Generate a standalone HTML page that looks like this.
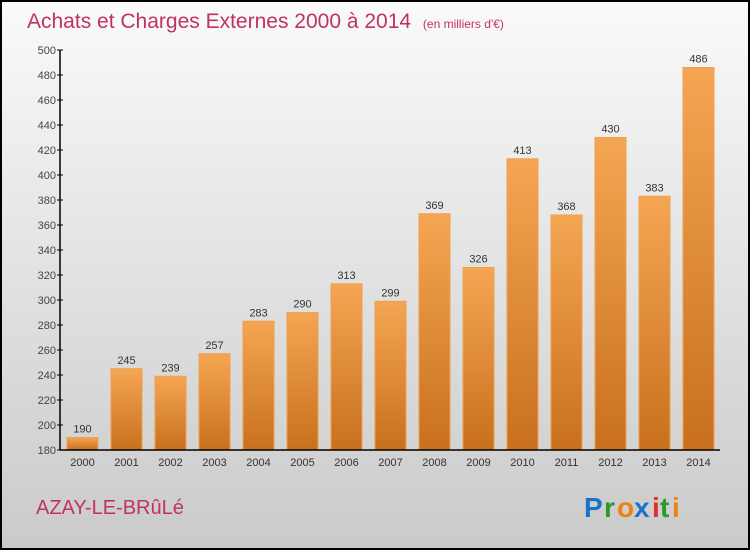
<!DOCTYPE html>
<html><head><meta charset="utf-8"><style>
html,body{margin:0;padding:0;}
body{width:750px;height:550px;overflow:hidden;font-family:"Liberation Sans",sans-serif;}
</style></head><body>
<svg id="chart" width="750" height="550" xmlns="http://www.w3.org/2000/svg">
<defs>
<linearGradient id="bg" x1="0" y1="0" x2="0" y2="1"><stop offset="0" stop-color="#fafafa"/><stop offset="1" stop-color="#cacaca"/></linearGradient>
<linearGradient id="bar" x1="0" y1="0" x2="0" y2="1"><stop offset="0" stop-color="#f5a652"/><stop offset="1" stop-color="#c8701e"/></linearGradient>
</defs>
<rect x="1" y="1" width="748" height="548" fill="url(#bg)" stroke="#000" stroke-width="2"/>
<text x="27" y="28" font-size="21" fill="#c0335f">Achats et Charges Externes 2000 à 2014 <tspan font-size="12" dx="6">(en milliers d'€)</tspan></text>
<g id="yaxis"></g>
<g id="bars"></g>
<g id="xaxis"></g>
<text x="36" y="514" font-size="20" fill="#c0335f">AZAY-LE-BRûLé</text>
<g font-size="28" font-weight="bold" font-family="'Liberation Sans',sans-serif">
<text x="584" y="517" fill="#1a73c8">P</text><text x="604" y="517" fill="#2a9a2a">r</text><text x="617" y="517" fill="#f08010">o</text><text x="634" y="517" fill="#1a73c8">x</text><text x="652" y="517" fill="#e03020">i</text><text x="660" y="517" fill="#2a9a2a">t</text><text x="672" y="517" fill="#f08010">i</text>
</g>
</svg>
<script>
const years=["2000","2001","2002","2003","2004","2005","2006","2007","2008","2009","2010","2011","2012","2013","2014"];
const values=[190,245,239,257,283,290,313,299,369,326,413,368,430,383,486];
const yTicks=[180,200,220,240,260,280,300,320,340,360,380,400,420,440,460,480,500];
const NS="http://www.w3.org/2000/svg";
const y0=180,y1=500,py0=450,py1=50,axX=60,axEnd=720;
function yS(v){return py0-(v-y0)*(py0-py1)/(y1-y0);}
function xS(i){return 82.5+i*44;}
function mk(t,a,p){const e=document.createElementNS(NS,t);for(const k in a)e.setAttribute(k,a[k]);p.appendChild(e);return e;}
const ya=document.getElementById('yaxis'),bg=document.getElementById('bars'),xa=document.getElementById('xaxis');
mk('line',{x1:axX,y1:py1,x2:axX,y2:py0,stroke:'#000','stroke-width':1.5},ya);
yTicks.forEach(v=>{
 const l=mk('line',{x1:axX-3,y1:yS(v),x2:axX+3,y2:yS(v),stroke:'#000'},ya);
 
 
 const t=mk('text',{x:axX-4,y:yS(v)+4,'text-anchor':'end','font-size':11,fill:'#444'},ya);
 
 
 t.textContent=v;
});
values.forEach((v,i)=>{
 const r=mk('rect',{x:xS(i)-15.5,y:yS(v),width:31,height:py0-yS(v),fill:'url(#bar)',stroke:'#f0a050','stroke-width':1},bg);
 
 
 const t=mk('text',{x:xS(i),y:yS(v)-5,'text-anchor':'middle','font-size':11,fill:'#333'},bg);
 
 
 t.textContent=v;
 const xt=mk('text',{x:xS(i),y:466,'text-anchor':'middle','font-size':11,fill:'#333'},xa);
 
 
 xt.textContent=years[i];
});
mk('line',{x1:axX,y1:py0,x2:axEnd,y2:py0,stroke:'#000','stroke-width':1.5},xa);
</script>
</body></html>
